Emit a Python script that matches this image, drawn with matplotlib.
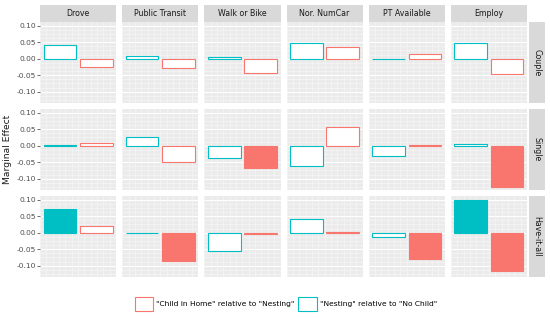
import numpy as np
import matplotlib
matplotlib.use("Agg")
import matplotlib.pyplot as plt
from matplotlib.patches import Patch

rows = ["Couple", "Single", "Have-it-all"]
cols = ["Drove", "Public Transit", "Walk or Bike", "Nor. NumCar", "PT Available", "Employ"]

# "Nesting" relative to "No Child" (teal)
nesting = [
    [0.042, 0.007, 0.006, 0.047, -0.002, 0.047],
    [0.002, 0.026, -0.037, -0.060, -0.031, 0.004],
    [0.073, -0.002, -0.055, 0.042, -0.014, 0.099],
]
# "Child in Home" relative to "Nesting" (red)
child = [
    [-0.026, -0.028, -0.043, 0.034, 0.013, -0.045],
    [0.008, -0.050, -0.067, 0.056, 0.001, -0.126],
    [0.019, -0.086, -0.003, 0.002, -0.080, -0.117],
]
nesting_sig = [
    [False] * 6,
    [False] * 6,
    [True, False, False, False, False, True],
]
child_sig = [
    [False] * 6,
    [False, False, True, False, False, True],
    [False, True, False, False, True, True],
]
yticks = [-0.10, -0.05, 0.00, 0.05, 0.10]
ytick_labels = ["-0.10", "-0.05", "0.00", "0.05", "0.10"]
legend_labels = ['"Child in Home" relative to "Nesting"', '"Nesting" relative to "No Child"']

TEAL = "#00BFC4"
RED = "#F8766D"
W, H = 550, 318
fig = plt.figure(figsize=(5.5, 3.18), dpi=100)

left, right = 40, 527
top, bottom = 22, 277
gap = 6
pw = (right - left - 5 * gap) / 6
ph = (bottom - top - 2 * gap) / 3

def fx(px):
    return px / W

def fy(py):
    return 1 - py / H

ylim = (-0.134, 0.111)
xlim = (0.45, 2.55)

for r in range(3):
    for c in range(6):
        x0 = left + c * (pw + gap)
        y0 = top + r * (ph + gap)
        ax = fig.add_axes([fx(x0), fy(y0 + ph), pw / W, ph / H])
        ax.set_facecolor("#EBEBEB")
        for s in ax.spines.values():
            s.set_visible(False)
        ax.set_xlim(*xlim)
        ax.set_ylim(*ylim)
        # fine grid
        for yv in np.arange(-0.125, 0.111, 0.0125):
            ax.axhline(yv, color="#F7F7F7", lw=0.45, zorder=0)
        for yv in yticks:
            ax.axhline(yv, color="white", lw=0.8, zorder=0)
        for xv in np.arange(0.45, 2.56, 0.175):
            ax.axvline(xv, color="#F7F7F7", lw=0.45, zorder=0)
        vals = [nesting[r][c], child[r][c]]
        sigs = [nesting_sig[r][c], child_sig[r][c]]
        colors = [TEAL, RED]
        for i, (v, s, col) in enumerate(zip(vals, sigs, colors)):
            ax.bar(i + 1, v, width=0.9, facecolor=col if s else "white",
                   edgecolor=col, linewidth=0.8, zorder=2)
        ax.set_xticks([])
        ax.set_yticks(yticks)
        if c == 0:
            ax.set_yticklabels(ytick_labels, fontsize=5.4, color="#4D4D4D")
            ax.tick_params(axis="y", length=2, width=0.5, color="#333333", pad=1)
        else:
            ax.tick_params(axis="y", length=0, labelleft=False)
        # top strip
        if r == 0:
            sax = fig.add_axes([fx(x0), fy(top - 0.5), pw / W, 16.5 / H])
            sax.set_facecolor("#D9D9D9")
            sax.set_xticks([]); sax.set_yticks([])
            for s in sax.spines.values():
                s.set_visible(False)
            sax.text(0.5, 0.5, cols[c], ha="center", va="center", fontsize=5.7,
                     color="#1A1A1A", transform=sax.transAxes)
        if c == 5:
            sax = fig.add_axes([fx(right + 1.5), fy(y0 + ph), 16.5 / W, ph / H])
            sax.set_facecolor("#D9D9D9")
            sax.set_xticks([]); sax.set_yticks([])
            for s in sax.spines.values():
                s.set_visible(False)
            sax.text(0.5, 0.5, rows[r], ha="center", va="center", fontsize=5.7,
                     color="#1A1A1A", rotation=-90, transform=sax.transAxes)

fig.text(fx(8), fy(top + 1.5 * ph + gap), "Marginal Effect", rotation=90,
         ha="center", va="center", fontsize=6.6, color="#1A1A1A")

handles = [Patch(facecolor="white", edgecolor=RED, linewidth=0.8),
           Patch(facecolor="white", edgecolor=TEAL, linewidth=0.8)]
fig.legend(handles, legend_labels, loc="center", bbox_to_anchor=(fx(286), fy(304)),
           ncol=2, frameon=False, fontsize=5.4, handlelength=2.5, handleheight=2.5,
           handletextpad=0.4, columnspacing=0.5, borderpad=0)

fig.savefig("out.png", dpi=100)
